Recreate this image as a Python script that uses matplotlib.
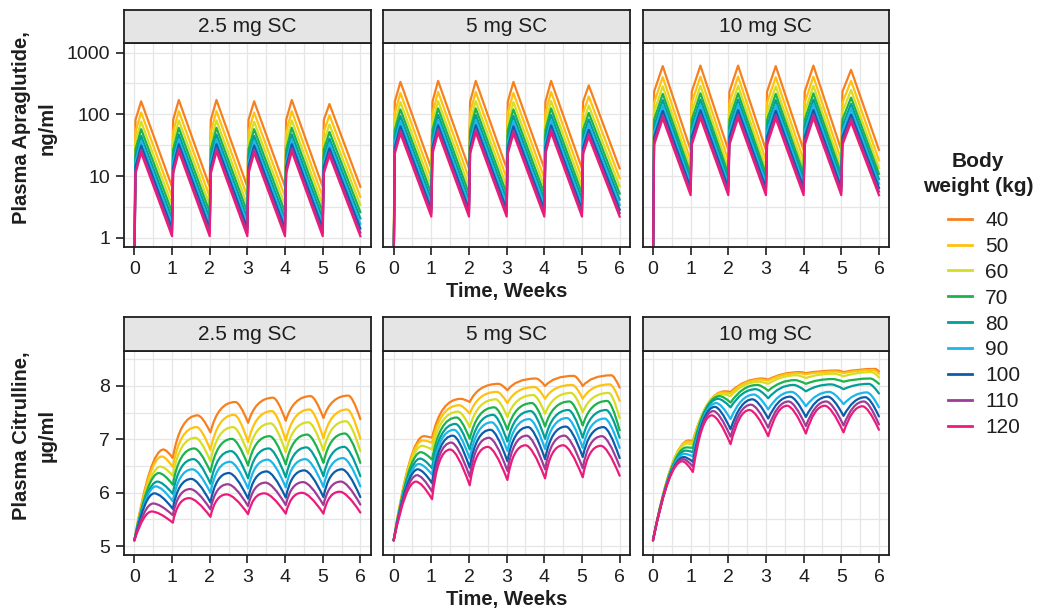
import numpy as np
import matplotlib.pyplot as plt
from matplotlib.path import Path
from matplotlib.patches import PathPatch
from matplotlib.lines import Line2D
from matplotlib.ticker import FixedLocator

plt.rcParams['font.family'] = ['Liberation Sans', 'DejaVu Sans']

# ---- data ----
weights = [40, 50, 60, 70, 80, 90, 100, 110, 120]
colors = ['#F7801E', '#FFC20E', '#D6DE23', '#1DB24B', '#009F98',
          '#1CB6EA', '#0B5DAA', '#9E3A97', '#EC1B7A']
doses = ['2.5 mg SC', '5 mg SC', '10 mg SC']
weeks = [0, 1, 2, 3, 4, 5]

# apraglutide, ng/ml: level just after each weekly dose, peak, trough before next dose
apr_predose = 0.3
apr_jump = [
    [81, 52, 37, 27, 21, 17, 14, 12, 11],
    [160, 105, 74, 56, 44, 35, 29, 25, 23],
    [233, 155, 110, 82, 64, 52, 43, 36, 32],
]
apr_peak = [
    [167, 110, 78, 59, 46, 38, 32, 27.5, 24.5],
    [335, 222, 158, 120, 94, 77, 64, 55, 49],
    [605, 400, 285, 215, 170, 140, 115, 98, 86],
]
apr_trough = [
    [6.7, 4.6, 3.4, 2.6, 2.05, 1.68, 1.41, 1.21, 1.06],
    [13.3, 9.2, 6.8, 5.2, 4.15, 3.4, 2.85, 2.5, 2.2],
    [26.5, 18, 13.5, 10.8, 8.9, 7.5, 6.4, 5.6, 4.9],
]
# week to week change of the peaks
apr_week = [
    [0.975, 1.025, 1.025, 0.975, 1.025, 0.88],
    [1.0, 1.04, 1.04, 1.0, 1.04, 0.88],
    [1.0, 1.02, 1.02, 1.0, 1.02, 0.87],
]
apr_tjump = 0.03
apr_tpeak = [0.18, 0.18, 0.26]

# citrulline, ug/ml: [P0, T1, P1, T2, P2, T3, P3, T4, P4, T5, P5, end]
cit_start = 5.11
cit = [
    [[6.81, 6.65, 7.45, 7.13, 7.70, 7.31, 7.78, 7.35, 7.81, 7.40, 7.82, 7.38],
     [6.68, 6.48, 7.23, 6.80, 7.46, 6.95, 7.53, 6.98, 7.56, 7.02, 7.56, 7.01],
     [6.49, 6.32, 7.03, 6.59, 7.23, 6.73, 7.30, 6.76, 7.32, 6.79, 7.34, 6.78],
     [6.37, 6.15, 6.83, 6.39, 7.01, 6.51, 7.06, 6.53, 7.09, 6.56, 7.11, 6.56],
     [6.21, 5.98, 6.63, 6.17, 6.78, 6.27, 6.83, 6.29, 6.85, 6.31, 6.86, 6.31],
     [6.12, 5.84, 6.44, 6.00, 6.58, 6.08, 6.62, 6.10, 6.63, 6.11, 6.65, 6.12],
     [5.99, 5.70, 6.26, 5.82, 6.37, 5.89, 6.40, 5.91, 6.42, 5.92, 6.44, 5.92],
     [5.80, 5.58, 6.07, 5.69, 6.16, 5.75, 6.19, 5.77, 6.20, 5.77, 6.21, 5.78],
     [5.65, 5.44, 5.90, 5.55, 5.97, 5.60, 5.99, 5.61, 6.00, 5.61, 6.02, 5.63]],
    [[7.06, 7.03, 7.76, 7.70, 8.04, 7.92, 8.14, 8.00, 8.19, 8.00, 8.20, 7.97],
     [6.98, 6.94, 7.64, 7.48, 7.89, 7.68, 7.98, 7.76, 8.02, 7.76, 8.03, 7.72],
     [6.88, 6.81, 7.52, 7.23, 7.75, 7.42, 7.83, 7.48, 7.87, 7.51, 7.87, 7.40],
     [6.76, 6.62, 7.41, 7.01, 7.60, 7.18, 7.68, 7.24, 7.71, 7.26, 7.72, 7.17],
     [6.64, 6.46, 7.29, 6.81, 7.46, 6.96, 7.53, 7.01, 7.55, 7.03, 7.55, 7.03],
     [6.54, 6.34, 7.18, 6.64, 7.32, 6.78, 7.38, 6.82, 7.40, 6.84, 7.39, 6.84],
     [6.44, 6.18, 7.07, 6.47, 7.18, 6.59, 7.23, 6.63, 7.24, 6.67, 7.23, 6.65],
     [6.33, 6.02, 6.94, 6.30, 7.03, 6.41, 7.07, 6.44, 7.07, 6.46, 7.06, 6.49],
     [6.21, 5.88, 6.81, 6.14, 6.86, 6.24, 6.89, 6.27, 6.89, 6.29, 6.88, 6.32]],
    [[6.98, 6.97, 7.90, 7.89, 8.14, 8.12, 8.26, 8.24, 8.29, 8.26, 8.32, 8.27],
     [6.96, 6.95, 7.88, 7.86, 8.12, 8.10, 8.24, 8.22, 8.27, 8.24, 8.30, 8.23],
     [6.92, 6.91, 7.85, 7.81, 8.08, 8.04, 8.20, 8.15, 8.23, 8.18, 8.26, 8.16],
     [6.85, 6.84, 7.81, 7.69, 8.02, 7.91, 8.11, 8.04, 8.13, 8.08, 8.14, 8.04],
     [6.79, 6.76, 7.76, 7.60, 7.94, 7.77, 8.02, 7.90, 8.03, 7.94, 8.04, 7.86],
     [6.73, 6.68, 7.68, 7.38, 7.84, 7.56, 7.89, 7.62, 7.89, 7.66, 7.88, 7.60],
     [6.67, 6.58, 7.61, 7.19, 7.75, 7.39, 7.80, 7.42, 7.80, 7.44, 7.79, 7.43],
     [6.63, 6.49, 7.53, 7.05, 7.65, 7.22, 7.71, 7.25, 7.71, 7.26, 7.71, 7.28],
     [6.59, 6.39, 7.45, 6.91, 7.55, 7.06, 7.63, 7.11, 7.63, 7.13, 7.62, 7.18]],
]
# time of the citrulline peak after a dose (first week, later weeks), trough lag
cit_tpeak0 = [
    [0.77, 0.73, 0.69, 0.65, 0.61, 0.57, 0.53, 0.50, 0.46],
    [0.80, 0.77, 0.75, 0.72, 0.70, 0.67, 0.64, 0.62, 0.59],
    [0.95, 0.93, 0.91, 0.89, 0.87, 0.84, 0.82, 0.80, 0.78],
]
cit_tpeak = [
    [0.68, 0.65, 0.62, 0.59, 0.57, 0.54, 0.51, 0.48, 0.45],
    [0.78, 0.74, 0.71, 0.67, 0.64, 0.60, 0.57, 0.53, 0.50],
    [0.90, 0.86, 0.81, 0.77, 0.73, 0.68, 0.64, 0.60, 0.56],
]
cit_tlag = [0.02, 0.02, 0.06]
cit_rise = [0.3, 0.3, 0.45]   # how fast each weekly rise bends over (curve style)

# ---- layout (pixels) ----
W, H = 1037, 612
lefts = [124, 383.3, 642.6]
pw = 246.7
rows = [(9.5, 42.7, 246.7), (317.5, 351, 555)]
GRID = '#E6E6E6'
INK = '#1E1E1E'
LW = 1.6


def box(x0, y0, x1, y1):
    return [x0 / W, 1 - y1 / H, (x1 - x0) / W, (y1 - y0) / H]


def cit_path(times, vals, rise):
    verts = [(times[0], vals[0])]
    codes = [Path.MOVETO]
    for i in range(1, len(times)):
        t0, v0 = times[i - 1], vals[i - 1]
        t1, v1 = times[i], vals[i]
        if i % 2 == 1:   # rising towards a peak
            f = 0.55 if i == 1 else rise
            ctrl = (t0 + f * (t1 - t0), v1)
        else:            # falling towards a trough
            ctrl = (t0 + 0.35 * (t1 - t0), v0)
        verts += [ctrl, (t1, v1)]
        codes += [Path.CURVE3, Path.CURVE3]
    return Path(verts, codes)


fig = plt.figure(figsize=(W / 100, H / 100), dpi=100)

for r, (s0, a0, a1) in enumerate(rows):
    for c in range(3):
        ax = fig.add_axes(box(lefts[c], a0, lefts[c] + pw, a1))
        st = fig.add_axes(box(lefts[c], s0, lefts[c] + pw, a0))
        st.set_facecolor('#E5E5E5')
        st.set_xticks([])
        st.set_yticks([])
        for sp in st.spines.values():
            sp.set_linewidth(1.3)
            sp.set_color(INK)
        st.text(0.5, 0.5, doses[c], ha='center', va='center', fontsize=15,
                color=INK, transform=st.transAxes)

        if r == 0:
            tp = apr_tpeak[c]
            for w in range(len(weights)):
                t = [0.0]
                v = [apr_predose]
                for k in weeks:
                    if k > 0:
                        t.append(k)
                        v.append(apr_trough[c][w])
                    t.append(k + apr_tjump)
                    v.append(apr_jump[c][w])
                    t.append(k + tp)
                    v.append(apr_peak[c][w] * apr_week[c][k])
                t.append(6.0)
                v.append(apr_trough[c][w])
                ax.plot(t, v, color=colors[w], lw=LW, solid_joinstyle='round')
            ax.set_yscale('log')
            ax.set_ylim(0.715, 1450)
            ax.yaxis.set_major_locator(FixedLocator([1, 10, 100, 1000]))
            ax.set_yticklabels(['1', '10', '100', '1000'])
            ax.yaxis.set_minor_locator(FixedLocator([10 ** (e + 0.5) for e in range(-1, 4)]))
        else:
            for w in range(len(weights)):
                t = [0.0, cit_tpeak0[c][w]]
                for k in range(1, 6):
                    t += [k + cit_tlag[c], k + cit_tpeak[c][w]]
                t.append(6.0)
                v = [cit_start] + cit[c][w]
                ax.add_patch(PathPatch(cit_path(t, v, cit_rise[c]), fill=False,
                                       edgecolor=colors[w], lw=LW,
                                       joinstyle='round', capstyle='round'))
            ax.set_ylim(4.835, 8.655)
            ax.yaxis.set_major_locator(FixedLocator([5, 6, 7, 8]))
            ax.yaxis.set_minor_locator(FixedLocator([4.5, 5.5, 6.5, 7.5, 8.5]))

        ax.set_xlim(-0.275, 6.275)
        ax.xaxis.set_major_locator(FixedLocator(range(7)))
        ax.xaxis.set_minor_locator(FixedLocator(np.arange(-0.5, 7, 1.0)))
        ax.grid(True, which='both', color=GRID, lw=0.9)
        ax.set_axisbelow(True)
        for sp in ax.spines.values():
            sp.set_linewidth(1.3)
            sp.set_color(INK)
        ax.tick_params(which='major', length=5.5, width=1.2, color=INK,
                       labelsize=14, labelcolor=INK, pad=4.5)
        ax.tick_params(which='minor', length=0)
        if c > 0:
            ax.tick_params(axis='y', which='both', left=False, labelleft=False)

fig.text(506.7 / W, 1 - 291 / H, 'Time, Weeks', ha='center', va='center',
         fontsize=14.5, weight='bold', color=INK)
fig.text(506.7 / W, 1 - 599 / H, 'Time, Weeks', ha='center', va='center',
         fontsize=14.5, weight='bold', color=INK)
fig.text(34 / W, 1 - 128 / H, 'Plasma Apraglutide,\nng/ml', rotation=90,
         ha='center', va='center', multialignment='center', fontsize=14.5,
         weight='bold', color=INK, linespacing=1.45)
fig.text(34 / W, 1 - 436 / H, 'Plasma Citrulline,\nµg/ml', rotation=90,
         ha='center', va='center', multialignment='center', fontsize=14.5,
         weight='bold', color=INK, linespacing=1.45)

# legend title written apart so the gap to the entries matches
fig.text(978 / W, 1 - 174 / H, 'Body\nweight (kg)', ha='center', va='center',
         multialignment='center', fontsize=15, weight='bold', color=INK,
         linespacing=1.4)
handles = [Line2D([0], [0], color=col, lw=2) for col in colors]
leg = fig.legend(handles, [str(x) for x in weights],
                 loc='center', bbox_to_anchor=(984 / W, 1 - 324 / H),
                 frameon=False, fontsize=15, handlelength=1.15, handletextpad=0.65,
                 labelspacing=0.33, borderpad=0, borderaxespad=0)
for txt in leg.get_texts():
    txt.set_color(INK)

fig.savefig('out.png', dpi=100)
